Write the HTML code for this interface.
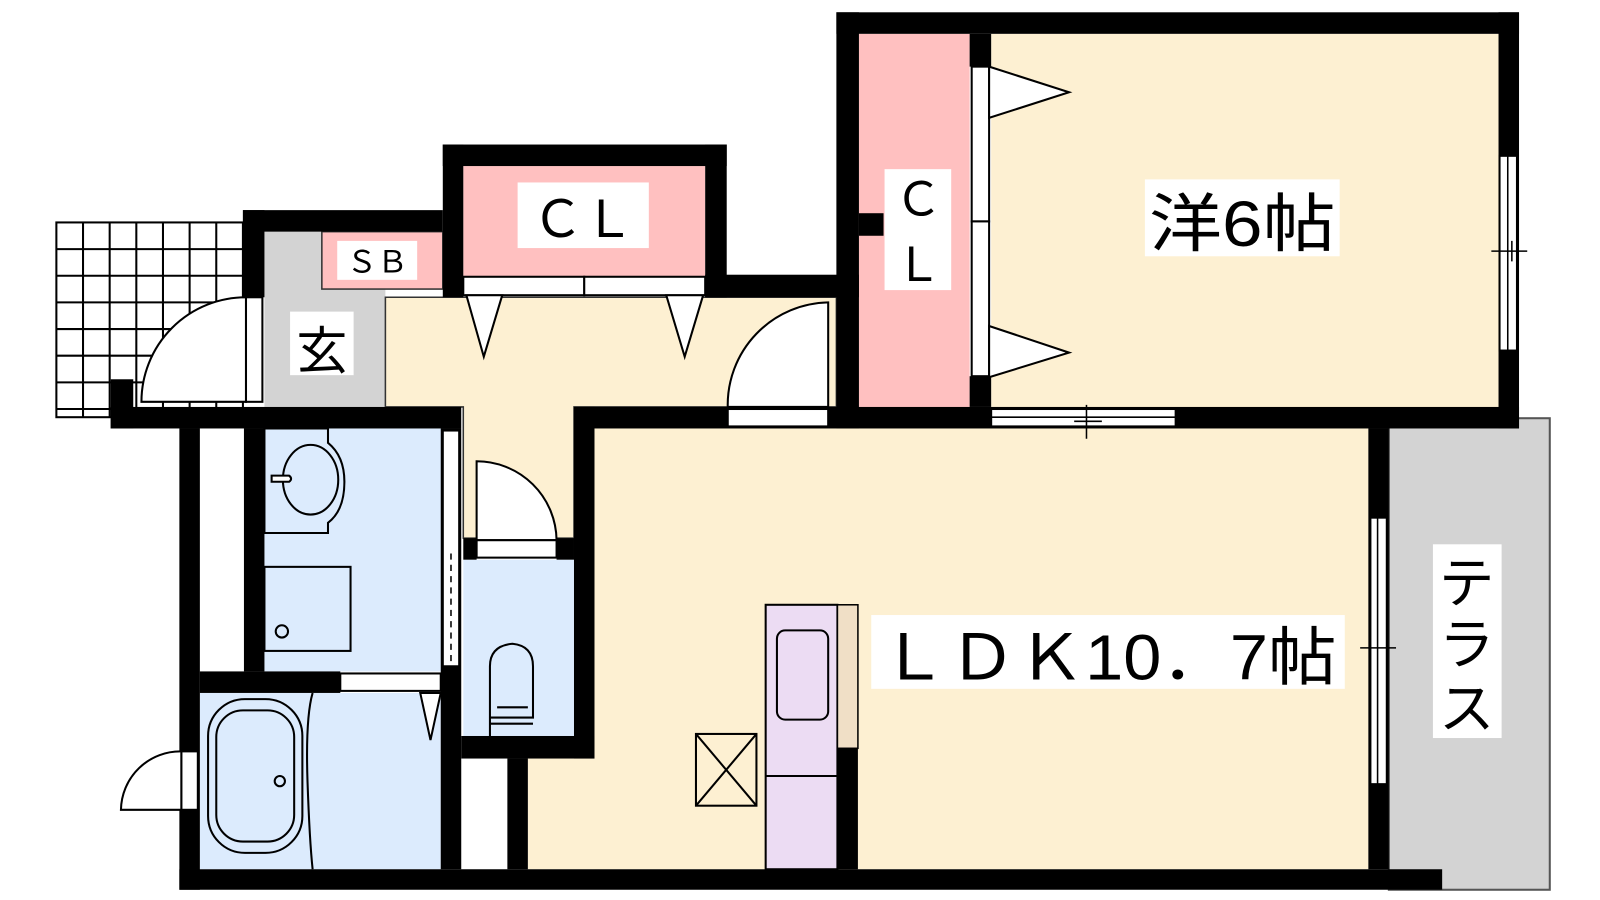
<!DOCTYPE html>
<html><head><meta charset="utf-8"><style>html,body{margin:0;padding:0;background:#fff}svg{display:block}</style></head>
<body>
<svg width="1600" height="900" viewBox="0 0 1561 878" preserveAspectRatio="none" xmlns="http://www.w3.org/2000/svg" font-family="'Liberation Sans','Noto Sans CJK JP',sans-serif">
<!-- grid -->
<g stroke="#000" stroke-width="2" fill="none">
<rect x="55" y="217" width="182" height="190"/>
<path d="M81 217V407M107 217V407M133 217V407M159 217V407M185 217V407M211 217V407M55 243H237M55 269H237M55 295H237M55 321H237M55 347H237M55 373H237M55 399H237"/>
</g>
<!-- floors -->
<rect x="258" y="226" width="118" height="171" fill="#d3d3d3"/>
<rect x="314" y="226" width="118" height="56" fill="#ffc0c0" stroke="#333" stroke-width="1.5"/>
<rect x="452" y="162" width="236" height="108" fill="#ffc0c0"/>
<rect x="838" y="33" width="108" height="364" fill="#ffc0c0"/>
<rect x="967" y="33" width="495" height="364" fill="#fdf0d2"/>
<path d="M376 290H816V397H560V525H452V397H376Z" fill="#fdf0d2" stroke="#333" stroke-width="1.5"/>
<rect x="580" y="418" width="755" height="430" fill="#fdf0d2"/>
<rect x="515" y="740" width="70" height="108" fill="#fdf0d2"/>
<rect x="1355" y="408" width="157" height="460" fill="#d3d3d3" stroke="#555" stroke-width="2"/>
<rect x="258" y="418" width="174" height="237" fill="#dcebfd"/>
<rect x="195" y="676" width="235" height="172" fill="#dcebfd"/>
<rect x="452" y="546" width="108" height="172" fill="#dcebfd"/>
<rect x="195" y="418" width="43" height="237" fill="#fff"/>
<rect x="452" y="740" width="43" height="108" fill="#fff"/>
<!-- walls -->
<g fill="#000">
<rect x="237" y="205" width="195" height="21"/>
<rect x="237" y="205" width="21" height="85"/>
<rect x="108" y="397" width="342" height="21"/>
<rect x="108" y="370" width="22" height="48"/>
<rect x="432" y="141" width="277" height="21"/>
<rect x="432" y="141" width="20" height="149"/>
<rect x="688" y="141" width="21" height="149"/>
<rect x="688" y="268" width="150" height="22"/>
<rect x="816" y="12" width="666" height="21"/>
<rect x="816" y="12" width="22" height="406"/>
<rect x="1462" y="12" width="20" height="406"/>
<rect x="838" y="208" width="24" height="22"/>
<rect x="946" y="33" width="21" height="32"/>
<rect x="946" y="367" width="21" height="30"/>
<rect x="560" y="397" width="922" height="21"/>
<rect x="560" y="397" width="20" height="343"/>
<rect x="450" y="718" width="130" height="22"/>
<rect x="495" y="740" width="20" height="108"/>
<rect x="1335" y="418" width="20" height="430"/>
<rect x="175" y="848" width="1232" height="20"/>
<rect x="175" y="418" width="20" height="450"/>
<rect x="238" y="418" width="20" height="237"/>
<rect x="195" y="655" width="137" height="21"/>
<rect x="430" y="418" width="20" height="430"/>
<rect x="817" y="730" width="20" height="118"/>
<rect x="452" y="525" width="13" height="21"/>
<rect x="543" y="525" width="17" height="21"/>
</g>
<!-- doors/windows -->
<g fill="#fff" stroke="#000" stroke-width="2">
<path d="M240 290A102 102 0 0 0 138 392H240Z"/>
<rect x="240" y="290" width="16" height="102"/>
<rect x="452" y="270" width="118" height="18"/><rect x="570" y="270" width="118" height="18"/>
<path d="M455 288L472 348L490 288Z"/><path d="M650 288L668 348L686 288Z"/>
<rect x="948" y="65" width="17" height="151"/><rect x="948" y="216" width="17" height="151"/>
<path d="M965 65L1043 90L965 115Z"/><path d="M965 318L1043 344L965 368Z"/>
<path d="M808 295A100 100 0 0 0 710 397H808Z"/>
<rect x="710" y="399" width="98" height="17"/>
<rect x="967" y="399" width="180" height="17"/>
<rect x="1463" y="152" width="17" height="190"/>
<rect x="1337" y="505" width="16" height="260"/>
<path d="M465 450A78 78 0 0 1 543 527H465Z"/>
<rect x="465" y="527" width="78" height="17"/>
<rect x="432" y="420" width="16" height="230"/>
<rect x="332" y="657" width="98" height="17"/>
<path d="M410 676L420 722L430 676Z"/>
<path d="M177 733A58 58 0 0 0 118 790H177Z"/>
<rect x="177" y="733" width="16" height="57"/>
</g>
<g stroke="#000" stroke-width="1.5" fill="none">
<path d="M967 407H1147M1060 395V428M1048 411H1075"/>
<path d="M1471 152V342M1455 245H1490M1475 235V255"/>
<path d="M1344 505V765M1327 632H1362M1344 620V645"/>
<path d="M440 540V650" stroke-dasharray="6 5"/>
</g>
<!-- fixtures -->
<g stroke="#000" stroke-width="2" fill="none">
<path d="M258 418H320V432Q336 445 336 470Q336 498 320 510V520H258Z" fill="#dcebfd"/>
<ellipse cx="303" cy="468" rx="27" ry="34"/>
<path d="M265 464H282Q286 467 282 470H265Z" fill="#fff"/>
<rect x="258" y="553" width="84" height="82"/>
<circle cx="275" cy="616" r="6"/>
<rect x="203" y="682" width="92" height="150" rx="36"/>
<rect x="211" y="693" width="76" height="128" rx="26"/>
<circle cx="273" cy="762" r="5"/>
<path d="M305 676Q298 700 300 762Q302 820 305 848"/>
<path d="M478 718V650Q478 630 500 628Q520 630 520 650V700H478M485 690H515M478 706H520"/>
<rect x="679" y="716" width="59" height="70"/><path d="M679 716L738 786M738 716L679 786"/>
</g>
<rect x="747" y="590" width="70" height="258" fill="#ecdcf3" stroke="#000" stroke-width="2"/>
<line x1="747" y1="757" x2="817" y2="757" stroke="#000" stroke-width="2"/>
<rect x="758" y="615" width="50" height="87" rx="8" fill="none" stroke="#000" stroke-width="2"/>
<rect x="817" y="590" width="20" height="140" fill="#f0dfc6" stroke="#000" stroke-width="1.5"/>
<!-- labels -->
<g fill="#fff">
<rect x="283" y="304" width="62" height="62"/>
<rect x="329" y="235" width="78" height="38"/>
<rect x="505" y="178" width="128" height="64"/>
<rect x="863" y="165" width="65" height="118"/>
<rect x="1117" y="175" width="190" height="75"/>
<rect x="850" y="600" width="462" height="72"/>
<rect x="1398" y="531" width="67" height="189"/>
</g>
<g fill="#000">
<text x="314" y="360" font-size="50" text-anchor="middle">玄</text>
<text x="368" y="266" font-size="30" text-anchor="middle">ＳＢ</text>
<text x="569" y="231" font-size="50" text-anchor="middle">ＣＬ</text>
<text x="896" y="210" font-size="46" text-anchor="middle">Ｃ</text>
<text x="896" y="274" font-size="46" text-anchor="middle">Ｌ</text>
<text x="1212" y="240" font-size="62" text-anchor="middle" textLength="182" lengthAdjust="spacingAndGlyphs">洋6帖</text>
<text x="1081" y="663" font-size="62" text-anchor="middle" textLength="446" lengthAdjust="spacingAndGlyphs">ＬＤＫ10．7帖</text>
<text x="1431" y="588" font-size="54" text-anchor="middle">テ</text>
<text x="1431" y="648" font-size="54" text-anchor="middle">ラ</text>
<text x="1431" y="710" font-size="54" text-anchor="middle">ス</text>
</g>
</svg>
</body></html>
